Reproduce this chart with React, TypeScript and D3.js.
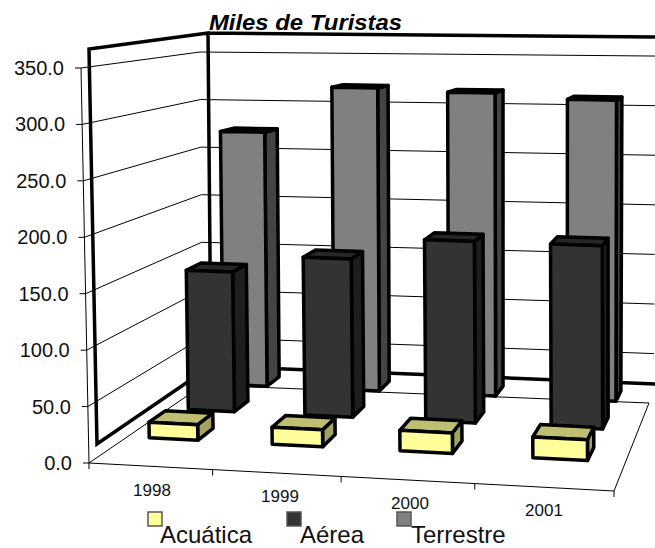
import * as d3 from "d3";

const WIDTH = 655;
const HEIGHT = 548;

const YEARS = ["1998", "1999", "2000", "2001"];
const SERIES = ["Acuática", "Aérea", "Terrestre"];
const ACUATICA = [14, 15, 18, 18];
const AEREA = [132, 148, 168, 168];
const TERRESTRE = [254, 300, 297, 292];
const Y_TICKS = [0, 50, 100, 150, 200, 250, 300, 350];

const VALUES = [ACUATICA, AEREA, TERRESTRE];
const FRONT_COLORS = ["#FFFF99", "#333333", "#808080"];
const TOP_COLORS = ["#BFBF73", "#262626", "#606060"];
const SIDE_COLORS = ["#A3A35F", "#1E1E1E", "#444444"];

type Pt = [number, number];

// box corners as seen on the picture: front left, front right, back right, back left
const FLOOR: Pt[] = [[97, 444], [622, 472], [657, 384], [211, 366]];
const WALL_HEIGHT = [395, 411, 347, 333];
const WALL_LEAN = [-8, -2, 2, -3];
// the thin grid layer sits a bit off the thick walls, the bars a little the other way
const GRID_OFFSET: Pt = [-8, 19];
const BAR_OFFSET: Pt = [3, 1];

// unit square -> quad
const homography = (q: Pt[]) => {
  const [[x0, y0], [x1, y1], [x2, y2], [x3, y3]] = q;
  const dx1 = x1 - x2;
  const dx2 = x3 - x2;
  const sx = x0 - x1 + x2 - x3;
  const dy1 = y1 - y2;
  const dy2 = y3 - y2;
  const sy = y0 - y1 + y2 - y3;
  const den = dx1 * dy2 - dx2 * dy1;
  const g = (sx * dy2 - dx2 * sy) / den;
  const h = (dx1 * sy - sx * dy1) / den;
  const a = x1 - x0 + g * x1;
  const b = x3 - x0 + h * x3;
  const d = y1 - y0 + g * y1;
  const e = y3 - y0 + h * y3;
  return (u: number, v: number): Pt => {
    const w = g * u + h * v + 1;
    return [(a * u + b * v + x0) / w, (d * u + e * v + y0) / w];
  };
};

const floorAt = homography(FLOOR);

const bilinear = (c: number[], u: number, v: number) =>
  (c[0] * (1 - u) + c[1] * u) * (1 - v) + (c[3] * (1 - u) + c[2] * u) * v;

// Scales
const yScale = d3.scaleLinear().domain([0, 350]).range([0, 1]);
const xScale = d3.scaleBand<string>().domain(YEARS).range([0, 1]).paddingInner(0.6).paddingOuter(0.3);
const zScale = d3.scaleBand<string>().domain(SERIES).range([0, 1]).paddingInner(0.6).paddingOuter(0.3);
const xEdge = d3.scaleLinear().domain([0, YEARS.length]).range([0, 1]);

const project = (u: number, v: number, value: number): Pt => {
  const p = floorAt(u, v);
  const t = yScale(value);
  return [p[0] + bilinear(WALL_LEAN, u, v) * t, p[1] - bilinear(WALL_HEIGHT, u, v) * t];
};

const shifted = (offset: Pt) => (u: number, v: number, value: number): Pt => {
  const [x, y] = project(u, v, value);
  return [x + offset[0], y + offset[1]];
};

const gridProject = shifted(GRID_OFFSET);
const barProject = shifted(BAR_OFFSET);

const line = d3.line();
const closed = (pts: Pt[]) => line(pts) + "Z";

const Bar = ({ s, c }: { s: number; c: number }) => {
  const u0 = xScale(YEARS[c]) as number;
  const u1 = u0 + xScale.bandwidth();
  const v0 = zScale(SERIES[s]) as number;
  const v1 = v0 + zScale.bandwidth();
  const val = VALUES[s][c];
  const front = [barProject(u0, v0, 0), barProject(u1, v0, 0), barProject(u1, v0, val), barProject(u0, v0, val)];
  const side = [barProject(u1, v0, 0), barProject(u1, v1, 0), barProject(u1, v1, val), barProject(u1, v0, val)];
  const top = [barProject(u0, v0, val), barProject(u1, v0, val), barProject(u1, v1, val), barProject(u0, v1, val)];
  const style = { stroke: "#000", strokeWidth: 3.5, strokeLinejoin: "round" as const };
  return (
    <g>
      <path d={closed(side)} fill={SIDE_COLORS[s]} {...style} />
      <path d={closed(top)} fill={TOP_COLORS[s]} {...style} />
      <path d={closed(front)} fill={FRONT_COLORS[s]} {...style} />
    </g>
  );
};

export default function App() {
  const font = "'Liberation Sans', Arial, sans-serif";
  const labelPos = [
    [152, 490],
    [280, 496],
    [410, 503],
    [544, 510],
  ];
  const legendX = [148, 287, 397];
  const legendTextX = [160, 300, 411];

  return (
    <svg
      width={WIDTH}
      height={HEIGHT}
      style={{ position: "absolute", left: 0, top: 0, background: "#fff" }}
    >
      {/* thin floor, gridlines and axes */}
      <g fill="none" stroke="#000" strokeWidth={1}>
        <path
          d={closed([gridProject(0, 0, 0), gridProject(1, 0, 0), gridProject(1, 1, 0), gridProject(0, 1, 0)])}
        />
        <path d={line([gridProject(0, 0, 0), gridProject(0, 0, 350)]) as string} />
        {Y_TICKS.filter((t) => t > 0).map((t) => (
          <path key={t} d={line([gridProject(0, 0, t), gridProject(0, 1, t), gridProject(1.01, 1, t)]) as string} />
        ))}
        {Y_TICKS.map((t) => {
          const [x, y] = gridProject(0, 0, t);
          return <path key={t} d={`M${x - 6},${y}H${x}`} />;
        })}
        {d3.range(YEARS.length + 1).map((i) => {
          const [x, y] = gridProject(xEdge(i), 0, 0);
          return <path key={i} d={`M${x},${y}V${y + 6}`} />;
        })}
      </g>

      {/* thick walls */}
      <path
        d={
          closed([project(0, 0, 0), project(0, 0, 350), project(0, 1, 350), project(0, 1, 0)]) +
          (line([project(0, 1, 350), project(1, 1, 350)]) as string) +
          (line([project(0, 1, 0), project(1, 1, 0)]) as string)
        }
        fill="none"
        stroke="#000"
        strokeWidth={3.5}
      />

      {/* bars, back row first */}
      {[2, 1, 0].map((s) => YEARS.map((_, c) => <Bar key={`${s}-${c}`} s={s} c={c} />))}

      {Y_TICKS.map((t) => {
        const [x, y] = gridProject(0, 0, t);
        return (
          <text
            key={t}
            x={x - 17}
            y={y + 7}
            textAnchor="end"
            fontFamily={font}
            fontSize={20}
            fill="#111"
          >
            {t.toFixed(1)}
          </text>
        );
      })}

      {YEARS.map((y, i) => (
        <text
          key={y}
          x={labelPos[i][0]}
          y={labelPos[i][1] + 6}
          textAnchor="middle"
          fontFamily={font}
          fontSize={17}
          fill="#111"
        >
          {y}
        </text>
      ))}

      <text
        x={209}
        y={30}
        fontFamily={font}
        fontSize={22}
        fontWeight="bold"
        fontStyle="italic"
        fill="#000"
        textLength={193}
        lengthAdjust="spacingAndGlyphs"
      >
        Miles de Turistas
      </text>

      {SERIES.map((name, i) => (
        <g key={name}>
          <rect
            x={legendX[i]}
            y={512}
            width={14}
            height={14}
            fill={FRONT_COLORS[i]}
            stroke="#555"
            strokeWidth={1.5}
          />
          <text x={legendTextX[i]} y={542.8} fontFamily={font} fontSize={24} fill="#111">
            {name}
          </text>
        </g>
      ))}
    </svg>
  );
}
